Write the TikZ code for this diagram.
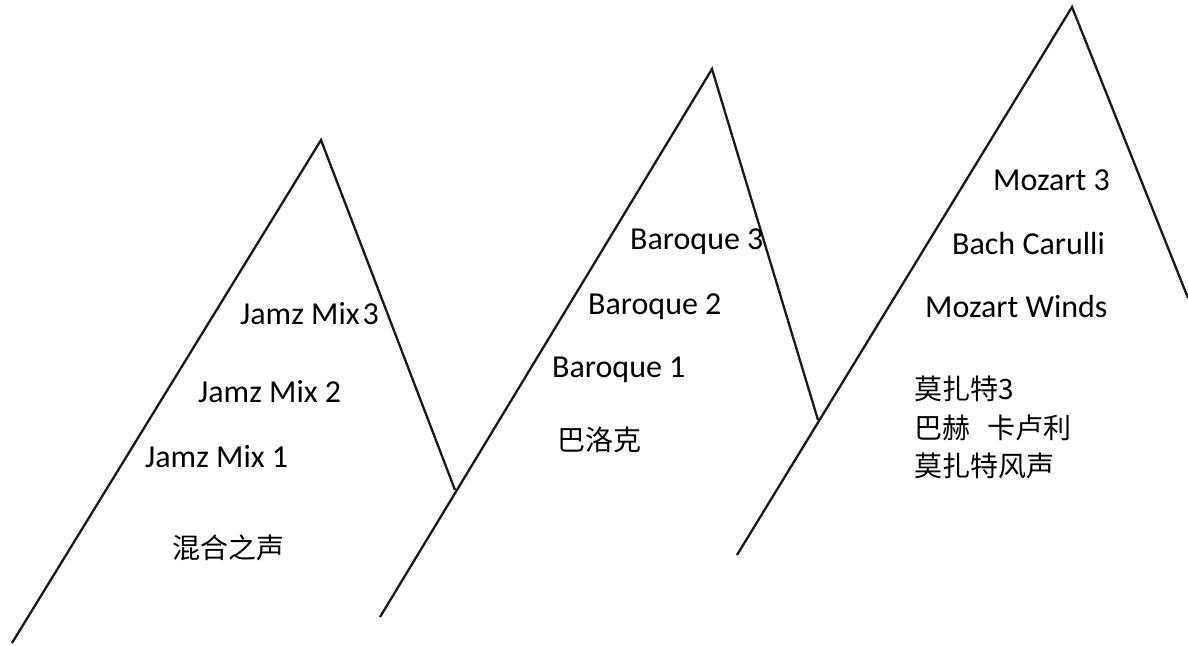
\documentclass[tikz,border=0pt]{standalone}
\usepackage{fontspec}
\setmainfont{Carlito}
\newfontfamily\cjk{Noto Sans CJK SC}
\begin{document}
\begin{tikzpicture}[x=1pt,y=-1pt,
  ridge/.style={line width=2.3pt,draw=black!90,line join=miter},
  lbl/.style={anchor=base west,inner sep=0pt,font=\fontsize{32}{38}\selectfont},
  zh/.style={anchor=base west,inner sep=0pt,font=\cjk\fontsize{28}{33}\selectfont}]
\useasboundingbox (0,0) rectangle (1188,645);
% peaks and the points where each slope meets the next
\coordinate (b1) at (12,643);
\coordinate (p1) at (321,140);
\coordinate (j1) at (455,490);
\coordinate (b2) at (380,617);
\coordinate (p2) at (712,69);
\coordinate (j2) at (818,420);
\coordinate (b3) at (737,555);
\coordinate (p3) at (1072,7);
\coordinate (e3) at (1188,298);
\draw[ridge] (b1) -- (p1) -- (j1);
\draw[ridge] (b2) -- (p2) -- (j2);
\draw[ridge] (b3) -- (p3) -- (e3);
% first mountain
\node[lbl] (jm3) at (240,324) {Jamz Mix\kern3pt 3};
\node[lbl] (jm2) at (198,402) {Jamz Mix 2};
\node[lbl] (jm1) at (145,467) {Jamz Mix 1};
\node[zh] (hh) at (172,558) {混合之声};
% second mountain
\node[lbl] (bq3) at (630,249) {Baroque 3};
\node[lbl] (bq2) at (588,314) {Baroque 2};
\node[lbl] (bq1) at (552,377) {Baroque 1};
\node[zh] (blk) at (557,450) {巴洛克};
% third mountain
\node[lbl] (mz3) at (993,190) {Mozart 3};
\node[lbl] (bc) at (952,254) {Bach Carulli};
\node[lbl] (mw) at (925,317) {Mozart Winds};
\node[zh] (zmz) at (914,399) {莫扎特3};
\node[zh] (zbc) at (914,438) {巴赫\hspace{0.6em}卡卢利};
\node[zh] (zmw) at (914,476) {莫扎特风声};
\end{tikzpicture}
\end{document}
